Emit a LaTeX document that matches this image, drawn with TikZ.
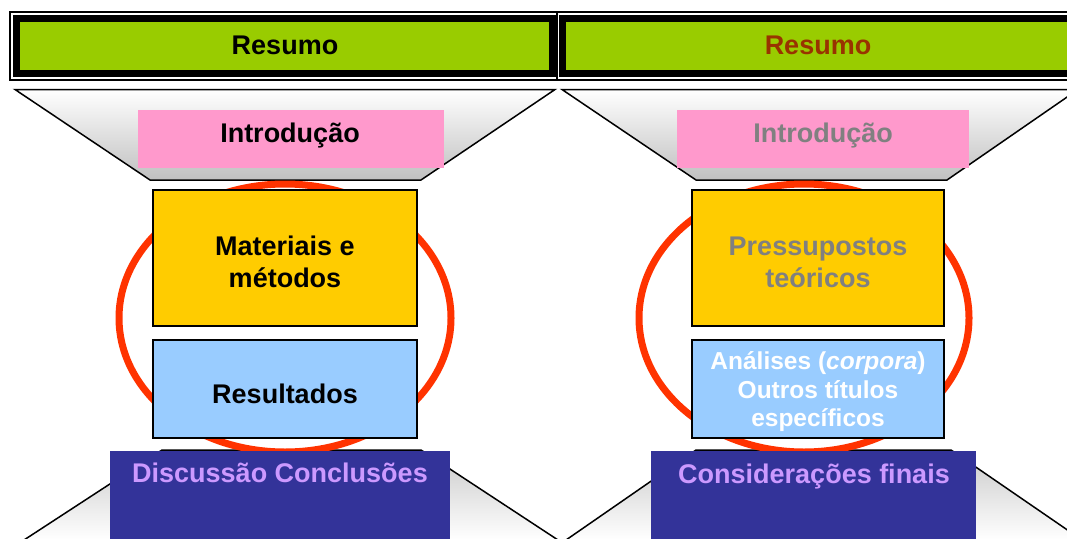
\documentclass[tikz,border=0pt]{standalone}
\usepackage{fontspec}
\setmainfont{Liberation Sans}
\definecolor{bgreen}{HTML}{99CC00}
\definecolor{byellow}{HTML}{FFCC00}
\definecolor{bpink}{HTML}{FF99CC}
\definecolor{bblue}{HTML}{99CCFF}
\definecolor{bpurple}{HTML}{333399}
\definecolor{lavender}{HTML}{CC99FF}
\definecolor{ringred}{HTML}{FF3300}
\definecolor{darkred}{HTML}{993300}
\definecolor{greytext}{HTML}{808080}
\definecolor{trapgray}{HTML}{C0C0C0}
\tikzset{
  bigtext/.style={font=\bfseries\fontsize{27}{32}\selectfont, align=center, inner sep=0pt},
  smalltext/.style={font=\bfseries\fontsize{24.5}{28.5}\selectfont, align=center, inner sep=0pt},
  boxbase/.style={rectangle, anchor=north west, inner sep=0pt, outer sep=0pt},
  outerframe/.style={line width=1.5pt, draw=black},
  innerframe/.style={line width=7pt, draw=black, fill=bgreen},
  trapdown/.style={draw=black, line width=1.5pt, top color=white, bottom color=trapgray},
  trapup/.style={draw=black, line width=1.5pt, top color=trapgray!85, bottom color=white},
  ring/.style={draw=ringred, line width=7pt},
  pinkbox/.style={boxbase, fill=bpink},
  yellowbox/.style={boxbase, fill=byellow, draw=black, line width=2pt},
  bluebox/.style={boxbase, fill=bblue, draw=black, line width=2pt},
  purplebox/.style={boxbase, fill=bpurple},
}
\begin{document}
\begin{tikzpicture}[x=1pt,y=-1pt]
\useasboundingbox (0,0) rectangle (1067,538);
\clip (0,0) rectangle (1067,538);
\fill[white] (0,0) rectangle (1067,538);

% banners
\draw[outerframe] (10,12) rectangle (557,80);
\draw[innerframe] (16.5,18.5) rectangle (552,73.5);
\draw[outerframe] (557,12) rectangle (1100,80);
\draw[innerframe] (562,18.5) rectangle (1100,73.5);
\node[bigtext] (resL) at (285,45) {Resumo};
\node[bigtext, text=darkred] (resR) at (818,45) {Resumo};

% funnels
\shade[trapdown] (15,89.5) -- (555,89.5) -- (421,180) -- (150,180) -- cycle;
\shade[trapdown] (562,89.5) -- (1078,89.5) -- (947,180) -- (696,180) -- cycle;
\shade[trapup] (162,450) -- (421,450) -- (558,540) -- (24,540) -- cycle;
\shade[trapup] (696,450) -- (951,450) -- (1082,540) -- (566,540) -- cycle;

% pink boxes
\node[pinkbox, minimum width=306, minimum height=58] (introL) at (138,110) {};
\node[bigtext] (introLt) at (290,136) {Introdução};
\node[pinkbox, minimum width=292, minimum height=58] (introR) at (677,110) {};
\node[bigtext, text=greytext] (introRt) at (823,136) {Introdução};

% rings
\draw[ring] (285,318) ellipse [x radius=166, y radius=134];
\draw[ring] (804,318) ellipse [x radius=165, y radius=134];

% middle boxes
\node[yellowbox, minimum width=264, minimum height=136] (matL) at (153,190) {};
\node[bigtext] (matLt) at (285,262) {Materiais e\\métodos};
\node[bluebox, minimum width=264, minimum height=98] (resuL) at (153,340) {};
\node[bigtext] (resuLt) at (285,394) {Resultados};

\node[yellowbox, minimum width=252, minimum height=136] (presR) at (692,190) {};
\node[bigtext, text=greytext] (presRt) at (818,262) {Pressupostos\\teóricos};
\node[bluebox, minimum width=252, minimum height=98] (anaR) at (692,340) {};
\node[smalltext, text=white] (anaRt) at (818,392) {Análises (\textit{corpora})\\Outros títulos\\específicos};

% purple boxes
\node[purplebox, minimum width=340, minimum height=100] (discL) at (110,451) {};
\node[bigtext, text=lavender] (discLt) at (280,473) {Discussão Conclusões};
\node[purplebox, minimum width=325, minimum height=100] (consR) at (651,451) {};
\node[bigtext, text=lavender] (consRt) at (814,477) {Considerações finais};
\end{tikzpicture}
\end{document}
